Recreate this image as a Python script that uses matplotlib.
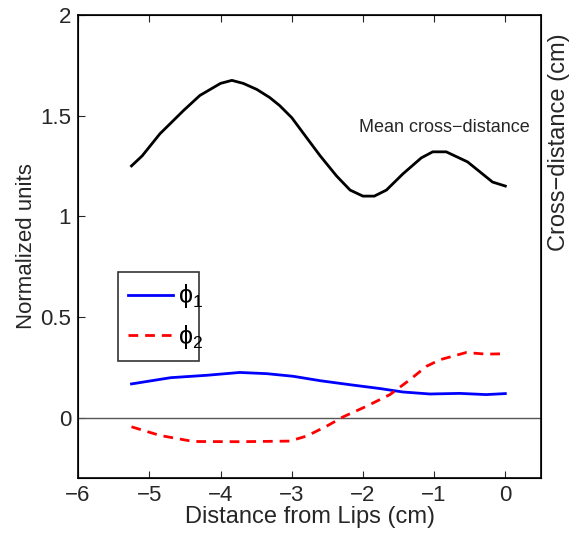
import numpy as np
import matplotlib
matplotlib.use('Agg')
import matplotlib.pyplot as plt

plt.rcParams['font.family'] = ['Liberation Sans', 'DejaVu Sans']
plt.rcParams['mathtext.fontset'] = 'custom'
plt.rcParams['mathtext.rm'] = 'Liberation Sans'
plt.rcParams['mathtext.it'] = 'Liberation Sans'

# mean cross-distance (black)
x_cd = [-5.25, -5.1, -4.85, -4.52, -4.29, -4.0, -3.84, -3.68, -3.49, -3.31, -3.17, -3.0,
        -2.79, -2.6, -2.37, -2.18, -2.0, -1.84, -1.67, -1.44, -1.18, -1.02, -0.83, -0.53,
        -0.18, 0.0]
y_cd = [1.25, 1.30, 1.41, 1.525, 1.60, 1.66, 1.675, 1.66, 1.63, 1.59, 1.55, 1.49,
        1.39, 1.30, 1.20, 1.13, 1.10, 1.10, 1.13, 1.21, 1.29, 1.32, 1.32, 1.27,
        1.17, 1.15]

# phi 1 (blue)
x_p1 = [-5.25, -4.7, -4.19, -3.73, -3.35, -2.98, -2.6, -2.18, -1.76, -1.44, -1.06, -0.64, -0.27, 0.0]
y_p1 = [0.167, 0.198, 0.21, 0.224, 0.218, 0.205, 0.183, 0.163, 0.144, 0.127, 0.117, 0.12, 0.114, 0.119]

# phi 2 (red)
x_p2 = [-5.25, -4.85, -4.38, -3.73, -3.03, -2.79, -2.51, -2.28, -1.95, -1.62, -1.34, -1.11,
        -0.92, -0.55, -0.27, 0.0]
y_p2 = [-0.046, -0.089, -0.119, -0.12, -0.117, -0.092, -0.043, 0.003, 0.056, 0.114, 0.188, 0.254,
        0.287, 0.323, 0.315, 0.317]

xticks = [-6, -5, -4, -3, -2, -1, 0]
yticks = [0, 0.5, 1, 1.5, 2]
ytick_labels = ['0', '0.5', '1', '1.5', '2']

txt = '#262626'
fig = plt.figure(figsize=(5.7, 5.34), dpi=100)
ax = fig.add_axes([0.137, 0.105, 0.812, 0.867])

ax.axhline(0, color='#555555', lw=1.0)
ax.plot(x_cd, y_cd, color='black', lw=2)
l1, = ax.plot(x_p1, y_p1, color='blue', lw=2, label='ϕ$_1$')
l2, = ax.plot(x_p2, y_p2, color='red', lw=2, ls='--', dashes=(3.5, 2.5), label='ϕ$_2$')

ax.text(0.34, 1.44, 'Mean cross\u2212distance', ha='right', va='center', fontsize=13, color=txt)

ax.set_xlim(-6, 0.5)
ax.set_ylim(-0.3, 2)
ax.set_xticks(xticks)
ax.set_xticklabels(['\u2212%d' % -t if t < 0 else '%d' % t for t in xticks])
ax.set_yticks(yticks)
ax.set_yticklabels(ytick_labels)
ax.tick_params(direction='in', top=True, right=True, labelsize=16, colors=txt, length=5, pad=5)
for s in ax.spines.values():
    s.set_linewidth(1.2)
ax.set_xlabel('Distance from Lips (cm)', fontsize=17, color=txt, labelpad=0)
ax.set_ylabel('Normalized units', fontsize=16, color=txt, labelpad=2)

# right axis label sits in the upper part of the frame
ax2 = ax.twinx()
ax2.set_yticks([])
ax2.set_ylabel('Cross\u2212distance (cm)', fontsize=17, color=txt)
ax2.yaxis.set_label_coords(1.015, 0.726)

leg = ax.legend(handles=[l1, l2], loc='lower left', bbox_to_anchor=(0.086, 0.253, 0.175, 0.192),
                mode='expand', fontsize=18, frameon=True, fancybox=False, handlelength=1.8,
                borderaxespad=0, labelspacing=0.5, handletextpad=0.2, borderpad=0.4)
leg.get_frame().set_edgecolor('black')
leg.get_frame().set_linewidth(1.2)

fig.savefig('out.png', dpi=100)
